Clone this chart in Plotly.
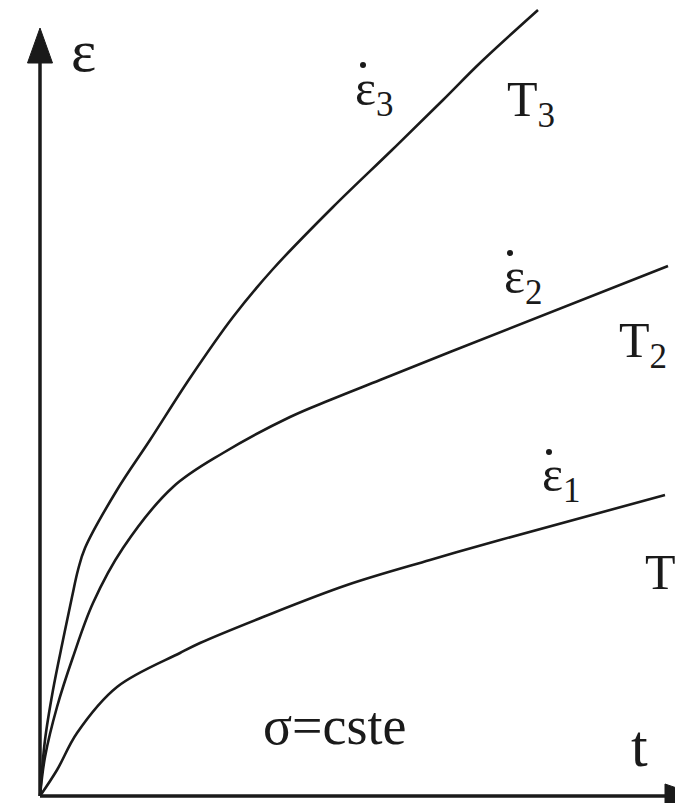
import plotly.graph_objects as go

# Creep curves: strain vs time at constant stress, three temperatures
t_1 = [0, 17, 37, 77, 140, 160, 223, 307, 390, 460, 625]
eps_1 = [0, 26, 63, 109, 143, 153, 179, 211, 236, 256, 301]

t_2 = [0, 5, 17, 33, 53, 83, 133, 183, 250, 290, 340, 410, 628]
eps_2 = [0, 39, 89, 139, 193, 248, 309, 343, 379, 396, 416, 444, 530]

t_3 = [0, 5, 13, 23, 32, 38, 45, 77, 110, 150, 193, 233, 293, 352, 403, 440, 498]
eps_3 = [0, 56, 106, 156, 199, 226, 248, 306, 356, 418, 479, 527, 589, 646, 696, 733, 786]

rate_labels = ["ε<sub>1</sub>", "ε<sub>2</sub>", "ε<sub>3</sub>"]
temp_labels = ["T", "T<sub>2</sub>", "T<sub>3</sub>"]

T_MAX = 635
EPS_MAX = 796

ink = "#1a1a1a"
serif = "Liberation Serif, Times New Roman, serif"

fig = go.Figure()
for t, e in [(t_1, eps_1), (t_2, eps_2), (t_3, eps_3)]:
    fig.add_trace(go.Scatter(x=t, y=e, mode="lines",
                             line=dict(color=ink, width=2.6, shape="spline", smoothing=1.0),
                             hoverinfo="skip", showlegend=False))

# Hand-drawn axes with arrowheads
shapes = [
    dict(type="line", x0=0, y0=0, x1=0, y1=740, line=dict(color=ink, width=3.5)),
    dict(type="path", path="M -12.5,733 L 12.5,733 L 0,768 Z",
         fillcolor=ink, line=dict(color=ink, width=1)),
    dict(type="line", x0=0, y0=0, x1=630, y1=0, line=dict(color=ink, width=3.5)),
    dict(type="path", path="M 625,-12 L 625,12 L 660,0 Z",
         fillcolor=ink, line=dict(color=ink, width=1)),
]
# Over-dots marking the time derivative on the strain-rate labels
for cx, cy in [(509, 344), (470, 543), (323, 731)]:
    shapes.append(dict(type="circle", x0=cx - 3, x1=cx + 3, y0=cy - 3, y1=cy + 3,
                       fillcolor=ink, line=dict(width=0)))
for s in shapes:
    s.update(xref="x", yref="y")


def font(size):
    return dict(family=serif, size=size, color=ink)


annotations = [
    dict(x=43, y=745, text="ε", font=font(60)),
    dict(x=599, y=50, text="t", font=font(60)),
    dict(x=295, y=70, text="σ=cste", font=font(54)),
    # strain-rate labels
    dict(x=500, y=318, text=rate_labels[0], font=font(50), xanchor="left"),
    dict(x=462, y=516, text=rate_labels[1], font=font(50), xanchor="left"),
    dict(x=313, y=704, text=rate_labels[2], font=font(50), xanchor="left"),
    # temperature labels
    dict(x=603, y=224, text=temp_labels[0], font=font(50), xanchor="left"),
    dict(x=577, y=452, text=temp_labels[1], font=font(50), xanchor="left"),
    dict(x=465, y=693, text=temp_labels[2], font=font(50), xanchor="left"),
]
for a in annotations:
    a.update(xref="x", yref="y", showarrow=False)

fig.update_layout(
    width=675, height=803,
    margin=dict(l=0, r=0, t=0, b=0),
    paper_bgcolor="white", plot_bgcolor="white",
    xaxis=dict(range=[-40, T_MAX], visible=False, fixedrange=True),
    yaxis=dict(range=[-7, EPS_MAX], visible=False, fixedrange=True),
    shapes=shapes, annotations=annotations,
)

fig.write_html("out.html")
